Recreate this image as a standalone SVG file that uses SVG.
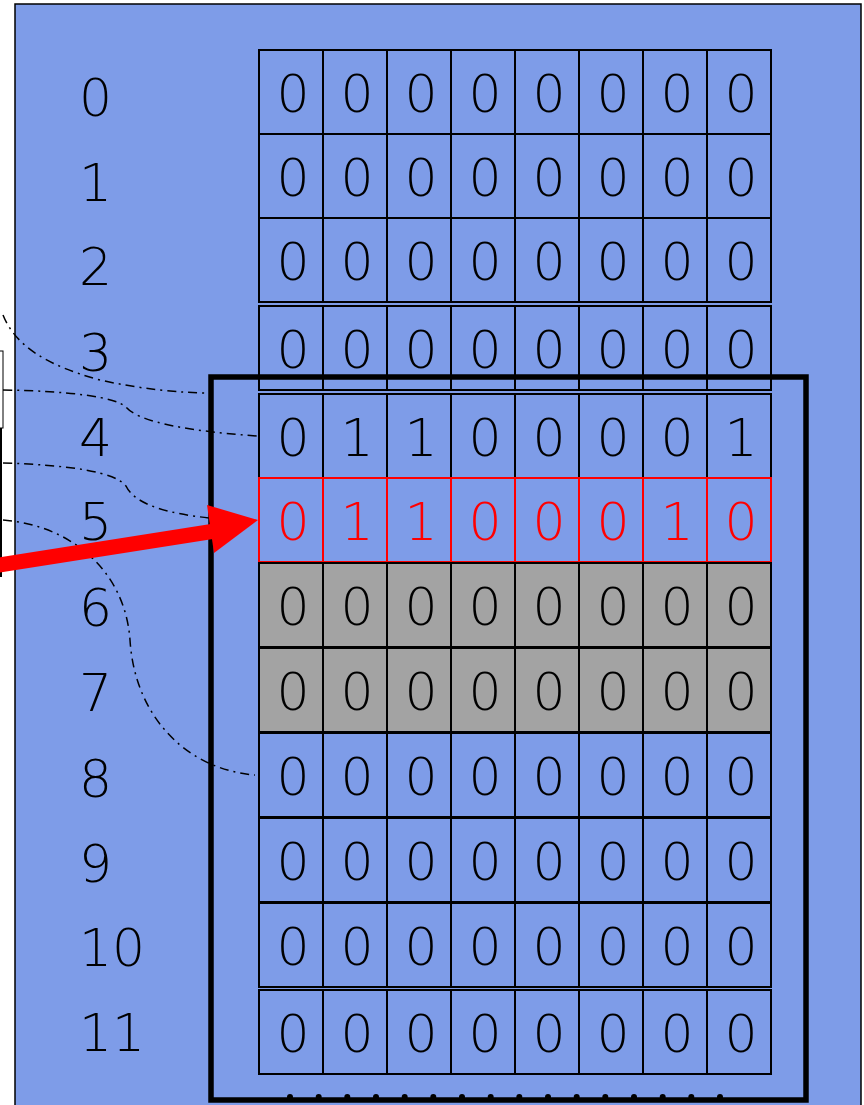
<svg xmlns="http://www.w3.org/2000/svg" width="864" height="1105" viewBox="0 0 864 1105">
<style>
.bg{fill:#7e9ce8;stroke:#000;stroke-width:1.5}
.c{stroke-width:2}
text{font-family:"DejaVu Sans ExtraLight","DejaVu Sans",sans-serif;font-weight:200;font-size:52px;fill:#000}
.v{text-anchor:middle}
.r text{fill:#f00}
.lab{text-anchor:start}
.dd{fill:none;stroke:#000;stroke-width:1.5;stroke-dasharray:9 5 2 5}
</style>
<defs>
<g id="cells">
<rect class="c" x="259" y="0" width="64" height="84"/>
<rect class="c" x="323" y="0" width="64" height="84"/>
<rect class="c" x="387" y="0" width="64" height="84"/>
<rect class="c" x="451" y="0" width="64" height="84"/>
<rect class="c" x="515" y="0" width="64" height="84"/>
<rect class="c" x="579" y="0" width="64" height="84"/>
<rect class="c" x="643" y="0" width="64" height="84"/>
<rect class="c" x="707" y="0" width="64" height="84"/>
</g>
<g id="zeros">
<text class="v" x="293" y="62">0</text><text class="v" x="357" y="62">0</text><text class="v" x="421" y="62">0</text><text class="v" x="485" y="62">0</text><text class="v" x="549" y="62">0</text><text class="v" x="613" y="62">0</text><text class="v" x="677" y="62">0</text><text class="v" x="741" y="62">0</text>
</g>
</defs>
<rect class="bg" x="15" y="4" width="846" height="1110"/>
<g id="left-stub" fill="none" stroke="#000">
<rect x="-10" y="351" width="13" height="77" stroke-width="1"/>
<line x1="1" y1="428" x2="1" y2="577" stroke-width="2"/>
</g>
<g id="labels">
<text class="lab" x="79" y="116">0</text>
<text class="lab" x="79" y="201">1</text>
<text class="lab" x="79" y="285">2</text>
<text class="lab" x="79" y="371">3</text>
<text class="lab" x="79" y="456">4</text>
<text class="lab" x="79" y="540">5</text>
<text class="lab" x="79" y="626">6</text>
<text class="lab" x="79" y="711">7</text>
<text class="lab" x="79" y="797">8</text>
<text class="lab" x="79" y="882">9</text>
<text class="lab" x="79" y="966">10</text>
<text class="lab" x="79" y="1051">11</text>
</g>
<g id="row-0" transform="translate(0,50)"><use href="#cells" fill="#7e9ce8" stroke="#000"/><use href="#zeros"/></g>
<g id="row-1" transform="translate(0,134)"><use href="#cells" fill="#7e9ce8" stroke="#000"/><use href="#zeros"/></g>
<g id="row-2" transform="translate(0,218)"><use href="#cells" fill="#7e9ce8" stroke="#000"/><use href="#zeros"/></g>
<g id="row-3" transform="translate(0,306)"><use href="#cells" fill="#7e9ce8" stroke="#000"/><use href="#zeros"/></g>
<g id="row-4" transform="translate(0,394)"><use href="#cells" fill="#7e9ce8" stroke="#000"/>
<text class="v" x="293" y="62">0</text><text class="v" x="357" y="62">1</text><text class="v" x="421" y="62">1</text><text class="v" x="485" y="62">0</text><text class="v" x="549" y="62">0</text><text class="v" x="613" y="62">0</text><text class="v" x="677" y="62">0</text><text class="v" x="741" y="62">1</text>
</g>
<g id="row-5" class="r" transform="translate(0,478)"><use href="#cells" fill="#7e9ce8" stroke="#f00"/>
<text class="v" x="293" y="62">0</text><text class="v" x="357" y="62">1</text><text class="v" x="421" y="62">1</text><text class="v" x="485" y="62">0</text><text class="v" x="549" y="62">0</text><text class="v" x="613" y="62">0</text><text class="v" x="677" y="62">1</text><text class="v" x="741" y="62">0</text>
</g>
<g id="row-6" transform="translate(0,563)"><use href="#cells" fill="#a3a3a3" stroke="#000"/><use href="#zeros"/></g>
<g id="row-7" transform="translate(0,648)"><use href="#cells" fill="#a3a3a3" stroke="#000"/><use href="#zeros"/></g>
<g id="row-8" transform="translate(0,733)"><use href="#cells" fill="#7e9ce8" stroke="#000"/><use href="#zeros"/></g>
<g id="row-9" transform="translate(0,818)"><use href="#cells" fill="#7e9ce8" stroke="#000"/><use href="#zeros"/></g>
<g id="row-10" transform="translate(0,903)"><use href="#cells" fill="#7e9ce8" stroke="#000"/><use href="#zeros"/></g>
<g id="row-11" transform="translate(0,990)"><use href="#cells" fill="#7e9ce8" stroke="#000"/><use href="#zeros"/></g>
<g id="window">
<rect x="211" y="377" width="595" height="723" fill="none" stroke="#000" stroke-width="5.5"/>
<g fill="#000">
<circle cx="290" cy="1097" r="3"/><circle cx="318.7" cy="1097" r="3"/><circle cx="347.3" cy="1097" r="3"/><circle cx="376" cy="1097" r="3"/>
<circle cx="404.7" cy="1097" r="3"/><circle cx="433.3" cy="1097" r="3"/><circle cx="462" cy="1097" r="3"/><circle cx="490.7" cy="1097" r="3"/>
<circle cx="519.3" cy="1097" r="3"/><circle cx="548" cy="1097" r="3"/><circle cx="576.7" cy="1097" r="3"/><circle cx="605.3" cy="1097" r="3"/>
<circle cx="634" cy="1097" r="3"/><circle cx="662.7" cy="1097" r="3"/><circle cx="691.3" cy="1097" r="3"/><circle cx="720" cy="1097" r="3"/>
</g>
</g>
<g id="connectors">
<path class="dd" d="M3,315 C15,345 45,365 100,380 C140,389 180,393 210,393"/>
<path class="dd" d="M3,390 C70,391 115,397 126,407 C137,420 175,430 257,436"/>
<path class="dd" d="M3,463 C70,465 115,472 126,486 C135,505 170,514 210,518"/>
<path class="dd" d="M3,520 C70,525 125,570 130,640 C135,720 190,770 255,775"/>
<line x1="-20" y1="568" x2="215" y2="531" stroke="#f00" stroke-width="15"/>
<polygon points="258,520 207,505 214,553" fill="#f00"/>
</g>
</svg>
